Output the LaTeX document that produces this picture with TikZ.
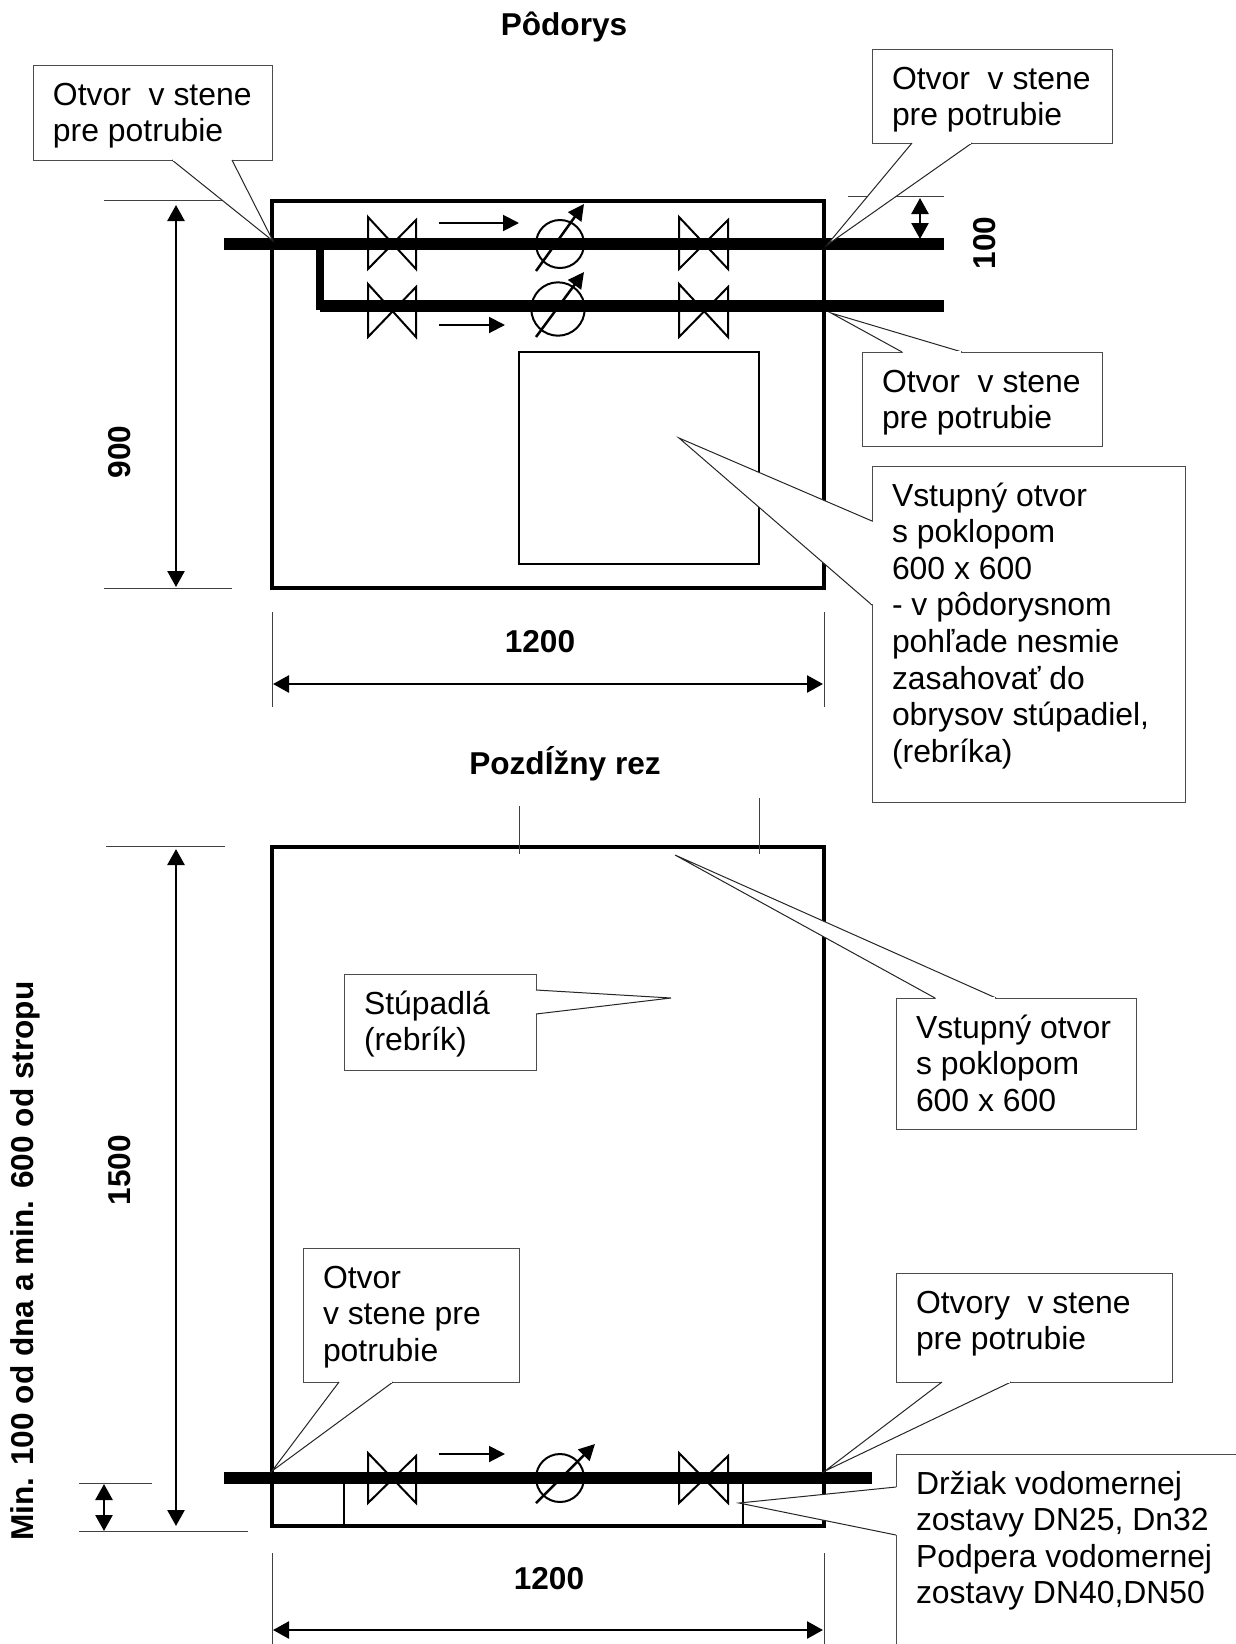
\documentclass[tikz,border=0pt]{standalone}
\usepackage{fontspec}
\setmainfont{Liberation Sans}
\usetikzlibrary{arrows.meta}
\newcommand\cbtext[3]{\parbox[c][#2pt][t]{#1pt}{\leftskip=20pt\rightskip=0pt plus 1fil\parindent=0pt\parfillskip=0pt plus 1fil\vspace*{14.4pt}\strut #3}}
\newcommand\calltail[3]{\fill[white] #1 -- #2 -- #3 -- cycle; \draw[tailline] #1 -- #2 -- #3; \draw[white,line width=1.6pt,shorten <=1pt,shorten >=1pt] #1 -- #3;}
\newcommand\valve[4]{\draw[symbol] (#1,#3) -- (#2,#4) -- (#2,#3+3) -- (#1,#4) -- cycle;}
\tikzset{
  wall/.style={line width=4pt,line join=miter},
  pipe/.style={line width=12pt},
  riser/.style={line width=8pt},
  symbol/.style={line width=2pt,line join=miter},
  thin ext/.style={line width=1pt,draw=black!75},
  hatchbox/.style={line width=2pt},
  dim/.style={line width=2.6pt,{Triangle[length=16pt,width=17pt]}-{Triangle[length=16pt,width=17pt]}},
  flow/.style={line width=2pt,-{Triangle[length=16pt,width=16pt]}},
  metera/.style={line width=2.5pt,-{Triangle[length=16pt,width=16pt]}},
  tailline/.style={line width=1pt,draw=black!85,line join=miter},
  cbox/.style={draw=black!70,line width=1pt,fill=white,inner sep=0pt,outer sep=0pt,anchor=north west,font=\fontsize{31.9}{36.6}\selectfont},
  copen/.style={inner sep=0pt,outer sep=0pt,anchor=north west,font=\fontsize{31.9}{36.6}\selectfont},
  boldlbl/.style={inner sep=0pt,font=\fontsize{31.6}{36.6}\selectfont\bfseries},
}
\begin{document}
\begin{tikzpicture}[x=1pt,y=-1pt]
\useasboundingbox (0,0) rectangle (1236,1644);
% titles
\node[boldlbl] (t1) at (564,27) {Pôdorys};
\node[boldlbl] (t2) at (565,764) {PozdÍžny rez};
% upper plan
\draw[wall] (272,200.5) rectangle (824,588);
\draw[hatchbox] (519,352) rectangle (759,564);
\draw[pipe] (224,244) -- (944,244);
\draw[pipe] (320,306) -- (944,306);
\draw[riser] (320,244) -- (320,310);
\valve{368}{416}{217}{269}
\valve{679}{728}{217}{269}
\valve{368}{416}{284}{337}
\valve{679}{728}{284}{337}
\draw[flow] (439,223) -- (519,223);
\draw[flow] (439,325) -- (505,325);
\draw[symbol] (560,244) circle (24);
\draw[metera] (536,271) -- (584,204);
\draw[symbol] (558,309) circle (26.7);
\draw[metera] (536,337) -- (584,272);
% upper dimensions
\draw[thin ext] (104,200.5) -- (224,200.5);
\draw[thin ext] (104,588) -- (232,588);
\draw[dim] (176,205) -- (176,587);
\node[boldlbl,rotate=90] (d900) at (120,452) {900};
\draw[thin ext] (848,196) -- (944,196);
\draw[dim] (920,198) -- (920,239);
\node[boldlbl,rotate=90] (d100) at (985,243) {100};
\draw[thin ext] (272,612) -- (272,707);
\draw[thin ext] (824,612) -- (824,707);
\draw[dim] (273,684) -- (823,684);
\node[boldlbl] (d1200a) at (540,642) {1200};
% lower section
\draw[wall] (272,847) rectangle (824,1526);
\draw[thin ext] (519,806) -- (519,854);
\draw[thin ext] (759,798) -- (759,854);
\draw[symbol] (344,1478) -- (344,1526);
\draw[symbol] (743,1478) -- (743,1526);
\draw[pipe] (224,1478) -- (872,1478);
\valve{368}{416}{1453}{1503}
\valve{679}{728}{1453}{1503}
\draw[flow] (439,1454) -- (505,1454);
\draw[symbol] (560,1478) circle (24);
\draw[metera] (536,1503) -- (595,1444);
% lower dimensions
\draw[thin ext] (106,846) -- (225,846);
\draw[thin ext] (79,1483) -- (152,1483);
\draw[thin ext] (79,1531) -- (248,1531);
\draw[dim] (176,849) -- (176,1526);
\draw[dim] (104,1484) -- (104,1531);
\node[boldlbl,rotate=90] (d1500) at (120,1170) {1500};
\node[boldlbl,rotate=90] (dmin) at (25,1261) {Min. 100 od dna a min. 600 od stropu};
\draw[thin ext] (272,1553) -- (272,1644);
\draw[thin ext] (824,1553) -- (824,1644);
\draw[dim] (273,1630) -- (823,1630);
\node[boldlbl] (d1200b) at (549,1579) {1200};
% callouts
\node[cbox] (c1) at (33,65) {\cbtext{239}{95}{Otvor\ \ v stene\\pre potrubie}};
\coordinate (c1tip) at (273,241);
\calltail{(172,160)}{(c1tip)}{(232,160)}
\node[cbox] (c2) at (872,49) {\cbtext{240}{94}{Otvor\ \ v stene\\pre potrubie}};
\coordinate (c2tip) at (827,245);
\calltail{(912,143)}{(c2tip)}{(972,143)}
\node[cbox] (c3) at (862,352) {\cbtext{240}{94}{Otvor\ \ v stene\\pre potrubie}};
\coordinate (c3tip) at (831,313);
\calltail{(902,352)}{(c3tip)}{(962,352)}
\node[cbox] (c4) at (872,466) {\cbtext{313}{336}{Vstupný otvor\\s poklopom\\600 x 600\\- v pôdorysnom\\pohľade nesmie\\zasahovať do\\obrysov stúpadiel,\\(rebríka)}};
\coordinate (c4tip) at (679,438);
\calltail{(872,521)}{(c4tip)}{(872,605)}
\node[cbox] (c5) at (896,998) {\cbtext{240}{131}{Vstupný otvor\\s poklopom\\600 x 600}};
\coordinate (c5tip) at (675,855);
\calltail{(935,998)}{(c5tip)}{(996,998)}
\node[cbox] (c6) at (344,974) {\cbtext{192}{96}{Stúpadlá\\(rebrík)}};
\coordinate (c6tip) at (671,998);
\calltail{(536,990)}{(c6tip)}{(536,1014)}
\node[cbox] (c7) at (303,1248) {\cbtext{216}{134}{Otvor\\v stene pre\\potrubie}};
\coordinate (c7tip) at (272,1471);
\calltail{(339,1382)}{(c7tip)}{(393,1382)}
\node[cbox] (c8) at (896,1273) {\cbtext{276}{109}{Otvory\ \ v stene\\pre potrubie}};
\coordinate (c8tip) at (825,1471);
\calltail{(942,1382)}{(c8tip)}{(1011,1382)}
\node[copen] (c9) at (896,1454) {\cbtext{340}{190}{Držiak vodomernej\\zostavy DN25, Dn32\\Podpera vodomernej\\zostavy DN40,DN50}};
\fill[white] (896,1487) -- (739,1503) -- (896,1535) -- cycle;
\draw[tailline] (896,1487) -- (739,1503) -- (896,1535);
\draw[line width=1pt,draw=black!70] (c9.north east) -- (c9.north west) -- (896,1487);
\draw[line width=1pt,draw=black!70] (896,1535) -- (c9.south west);
\end{tikzpicture}
\end{document}
